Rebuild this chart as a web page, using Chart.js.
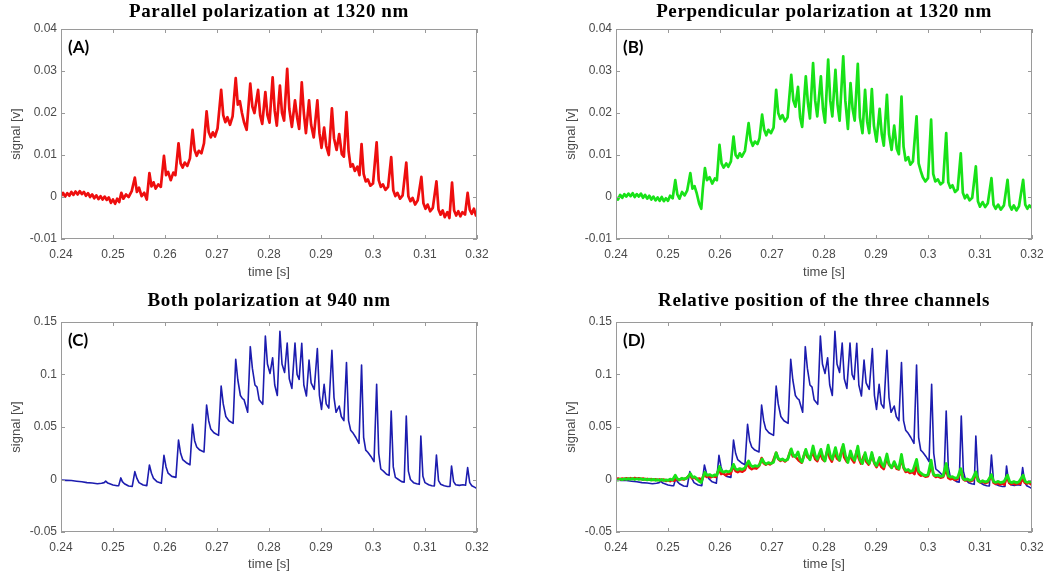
<!DOCTYPE html>
<html>
<head>
<meta charset="utf-8">
<script src="https://cdn.jsdelivr.net/npm/chart.js@4/dist/chart.umd.min.js"></script>
<style>
  html, body { margin: 0; padding: 0; background: #fff; }
  body { width: 1059px; height: 579px; position: relative; overflow: hidden; }
  canvas { position: absolute; }
</style>
</head>
<body>
<canvas id="chartA" width="529" height="289" style="left:0;top:0"></canvas>
<canvas id="chartB" width="504" height="289" style="left:555px;top:0"></canvas>
<canvas id="chartC" width="529" height="290" style="left:0;top:289px"></canvas>
<canvas id="chartD" width="504" height="290" style="left:555px;top:289px"></canvas>
<script>
// axis ticks
var xTicks = [0.24, 0.25, 0.26, 0.27, 0.28, 0.29, 0.30, 0.31, 0.32];
var xTickLabels = ['0.24', '0.25', '0.26', '0.27', '0.28', '0.29', '0.3', '0.31', '0.32'];
var yTicksSmall = [-0.01, 0, 0.01, 0.02, 0.03, 0.04];
var yLabelsSmall = ['-0.01', '0', '0.01', '0.02', '0.03', '0.04'];
var yTicksLarge = [-0.05, 0, 0.05, 0.1, 0.15];
var yLabelsLarge = ['-0.05', '0', '0.05', '0.1', '0.15'];

// parallel polarization, 1320 nm (red)
var tA = [.2400,.2404,.2408,.2412,.2416,.2420,.2424,.2428,.2432,.2436,.2440,.2444,.2448,.2452,.2456,.2460,.2464,.2468,.2472,.2476,
  .2480,.2484,.2488,.2492,.2496,.2500,.2504,.2508,.2512,.2516,.2520,.2525,.2530,.2536,.2542,.2546,.2550,.2555,.2560,.2565,
  .2570,.2574,.2578,.2582,.2587,.2592,.2598,.2602,.2606,.2611,.2616,.2620,.2626,.2630,.2634,.2638,.2643,.2648,.2653,.2657,
  .2661,.2665,.2670,.2675,.2680,.2684,.2688,.2692,.2696,.2701,.2708,.2712,.2716,.2720,.2725,.2730,.2736,.2740,.2744,.2748,
  .2752,.2757,.2764,.2768,.2772,.2779,.2783,.2787,.2793,.2797,.2801,.2807,.2811,.2815,.2821,.2825,.2829,.2835,.2839,.2844,
  .2850,.2854,.2858,.2863,.2867,.2871,.2877,.2881,.2886,.2893,.2897,.2901,.2906,.2910,.2915,.2921,.2925,.2930,.2935,.2940,
  .2944,.2949,.2953,.2957,.2961,.2965,.2970,.2974,.2978,.2982,.2986,.2990,.2995,.3000,.3007,.3011,.3015,.3019,.3024,.3029,
  .3035,.3039,.3043,.3047,.3052,.3057,.3064,.3068,.3072,.3076,.3081,.3086,.3093,.3097,.3101,.3105,.3110,.3115,.3122,.3126,
  .3130,.3134,.3138,.3143,.3147,.3152,.3156,.3160,.3164,.3168,.3172,.3177,.3182,.3186,.3190,.3194,.3198,.3200];
var vA = [.0002,.0010,.0001,.0009,.0003,.0012,.0005,.0013,.0006,.0014,.0007,.0012,.0003,.0009,.0000,.0006,-.0003,.0004,-.0005,.0002,
  -.0006,.0001,-.0007,-.0001,-.0014,-.0006,-.0016,-.0004,-.0012,.0010,-.0004,.0006,.0000,.0014,.0046,.0012,.0022,.0002,.0010,-.0006,
  .0057,.0025,.0035,.0020,.0030,.0024,.0098,.0052,.0060,.0040,.0058,.0052,.0128,.0080,.0070,.0082,.0074,.0092,.0160,.0112,
  .0098,.0110,.0104,.0128,.0204,.0155,.0142,.0154,.0144,.0163,.0255,.0195,.0178,.0190,.0172,.0192,.0283,.0220,.0228,.0200,
  .0178,.0160,.0270,.0215,.0200,.0255,.0195,.0174,.0250,.0195,.0177,.0285,.0205,.0170,.0265,.0200,.0182,.0305,.0210,.0167,
  .0230,.0190,.0162,.0273,.0200,.0152,.0230,.0172,.0142,.0230,.0152,.0117,.0165,.0122,.0100,.0211,.0140,.0112,.0150,.0102,
  .0096,.0202,.0110,.0072,.0078,.0062,.0072,.0052,.0126,.0055,.0037,.0042,.0027,.0032,.0130,.0040,.0024,.0030,.0017,.0024,
  .0095,.0016,.0002,.0010,-.0004,.0004,.0082,.0002,-.0010,-.0002,-.0018,-.0008,.0048,-.0015,-.0028,-.0018,-.0034,-.0026,.0037,-.0030,
  -.0042,-.0032,-.0048,-.0036,-.0050,.0034,-.0032,-.0044,-.0034,-.0046,-.0036,-.0042,.0010,-.0030,-.0040,-.0028,-.0044,-.0036];

// perpendicular polarization, 1320 nm (green)
var tB = [.2400,.2404,.2408,.2412,.2416,.2420,.2424,.2428,.2432,.2436,.2440,.2444,.2448,.2452,.2456,.2460,.2464,.2468,.2472,.2476,
  .2480,.2484,.2488,.2492,.2496,.2500,.2504,.2509,.2514,.2518,.2522,.2527,.2532,.2537,.2543,.2547,.2551,.2555,.2560,.2564,
  .2567,.2571,.2575,.2580,.2585,.2590,.2594,.2599,.2603,.2607,.2612,.2616,.2621,.2626,.2630,.2634,.2638,.2642,.2648,.2655,
  .2659,.2663,.2667,.2672,.2676,.2681,.2685,.2689,.2693,.2698,.2703,.2708,.2712,.2716,.2720,.2725,.2730,.2737,.2741,.2745,
  .2750,.2754,.2758,.2765,.2769,.2773,.2779,.2783,.2787,.2794,.2798,.2802,.2808,.2812,.2816,.2822,.2826,.2830,.2837,.2841,
  .2846,.2851,.2855,.2859,.2865,.2869,.2874,.2879,.2883,.2887,.2892,.2896,.2901,.2907,.2911,.2915,.2921,.2925,.2930,.2935,
  .2940,.2944,.2949,.2953,.2957,.2962,.2966,.2971,.2978,.2982,.2986,.2990,.2995,.3000,.3006,.3010,.3014,.3019,.3024,.3029,
  .3035,.3039,.3043,.3047,.3052,.3057,.3063,.3067,.3071,.3075,.3080,.3085,.3092,.3096,.3100,.3105,.3110,.3115,.3122,.3126,
  .3130,.3135,.3140,.3146,.3153,.3157,.3161,.3165,.3170,.3175,.3183,.3187,.3191,.3195,.3200];
var vB = [.0000,-.0006,.0005,-.0002,.0007,.0001,.0008,.0002,.0009,.0000,.0007,.0001,.0008,-.0002,.0005,-.0004,.0003,-.0006,.0001,-.0008,
  -.0001,-.0009,.0000,-.0010,-.0003,-.0009,.0003,-.0003,.0040,.0006,-.0004,.0012,.0004,.0016,.0057,.0020,.0026,.0010,-.0016,-.0028,
  .0020,.0069,.0040,.0047,.0032,.0044,.0040,.0124,.0080,.0070,.0080,.0072,.0085,.0144,.0100,.0093,.0104,.0096,.0110,.0176,
  .0135,.0122,.0132,.0126,.0140,.0196,.0160,.0147,.0160,.0152,.0165,.0255,.0200,.0186,.0195,.0180,.0190,.0291,.0230,.0215,
  .0262,.0190,.0167,.0287,.0225,.0187,.0319,.0230,.0192,.0287,.0210,.0177,.0327,.0230,.0192,.0303,.0220,.0182,.0335,.0230,
  .0162,.0271,.0210,.0182,.0317,.0190,.0152,.0255,.0180,.0152,.0257,.0170,.0132,.0210,.0150,.0122,.0243,.0150,.0112,.0170,
  .0115,.0102,.0239,.0120,.0087,.0095,.0077,.0085,.0192,.0080,.0062,.0047,.0037,.0045,.0184,.0055,.0037,.0042,.0030,.0035,
  .0152,.0035,.0022,.0028,.0012,.0018,.0104,.0010,-.0003,.0005,-.0008,-.0002,.0073,-.0010,-.0023,-.0012,-.0024,-.0015,.0045,-.0018,
  -.0028,-.0018,-.0030,-.0020,.0041,-.0020,-.0030,-.0020,-.0032,-.0022,.0041,-.0018,-.0028,-.0020,-.0026];

// both polarizations, 940 nm (blue)
var tC = [.2400,.2410,.2420,.2430,.2440,.2450,.2460,.2470,.2478,.2483,.2486,.2490,.2500,.2508,.2511,.2515,.2518,.2522,.2530,.2537,
  .2542,.2546,.2550,.2558,.2565,.2570,.2574,.2578,.2585,.2593,.2598,.2602,.2606,.2613,.2621,.2626,.2630,.2634,.2641,.2648,
  .2653,.2657,.2661,.2667,.2675,.2680,.2684,.2688,.2694,.2703,.2708,.2712,.2717,.2723,.2731,.2736,.2740,.2745,.2749,.2752,
  .2759,.2764,.2768,.2773,.2777,.2781,.2788,.2793,.2797,.2802,.2807,.2811,.2816,.2821,.2825,.2830,.2835,.2839,.2844,.2850,
  .2854,.2858,.2863,.2867,.2872,.2877,.2881,.2887,.2893,.2897,.2901,.2906,.2910,.2915,.2921,.2925,.2929,.2935,.2939,.2944,
  .2949,.2953,.2957,.2962,.2967,.2973,.2978,.2982,.2986,.2990,.2996,.3002,.3007,.3011,.3015,.3020,.3026,.3031,.3035,.3039,
  .3043,.3049,.3055,.3060,.3064,.3068,.3072,.3078,.3084,.3089,.3092,.3096,.3100,.3107,.3113,.3118,.3122,.3126,.3130,.3137,
  .3143,.3148,.3151,.3155,.3159,.3166,.3173,.3178,.3182,.3186,.3190,.3196,.3200];
var vC = [-.0005,-.0008,-.0010,-.0016,-.0022,-.0030,-.0034,-.0040,-.0036,-.0030,-.0016,-.0034,-.0052,-.0060,-.0058,.0015,-.0020,-.0040,-.0062,-.0066,
  .0075,.0010,-.0030,-.0052,-.0058,.0138,.0060,.0010,-.0022,-.0035,.0230,.0120,.0060,.0030,.0020,.0376,.0250,.0190,.0160,.0140,
  .0525,.0370,.0310,.0280,.0262,.0709,.0560,.0480,.0445,.0420,.0890,.0720,.0600,.0560,.0535,.1145,.0950,.0800,.0770,.0760,
  .0640,.1265,.1060,.0900,.0880,.0760,.0716,.1367,.1100,.1010,.1160,.0900,.0800,.1411,.1100,.1020,.1300,.0960,.0868,.1300,
  .1000,.0954,.1297,.0900,.0795,.1138,.0920,.0859,.1246,.0800,.0668,.0906,.0720,.0680,.1230,.0780,.0640,.0700,.0600,.0560,
  .1113,.0560,.0470,.0440,.0400,.0344,.1090,.0400,.0280,.0260,.0220,.0170,.0906,.0250,.0100,.0080,.0050,.0040,.0652,.0120,
  .0020,.0000,-.0020,-.0025,.0605,.0080,.0000,-.0030,-.0040,-.0046,.0414,.0030,-.0030,-.0050,-.0060,-.0062,.0233,-.0010,-.0045,-.0060,
  -.0066,-.0066,.0129,-.0020,-.0050,-.0056,-.0050,-.0055,.0113,-.0030,-.0060,-.0075,-.0087];

var RED = 'rgb(238, 14, 14)';
var GREEN = 'rgb(24, 226, 24)';
var BLUE = 'rgb(28, 28, 175)';

function toPoints(t, v) {
  return t.map(function (x, i) { return { x: x, y: v[i] }; });
}

// matlab style box, inner ticks, title and panel tag
var matlabFrame = {
  id: 'matlabFrame',
  afterDraw: function (chart, args, opts) {
    var ctx = chart.ctx;
    var a = chart.chartArea;
    var sx = chart.scales.x, sy = chart.scales.y;
    ctx.save();
    ctx.strokeStyle = '#9a9a9a';
    ctx.lineWidth = 1;
    ctx.strokeRect(a.left + 0.5, a.top + 0.5, a.width - 1, a.height - 1);
    ctx.beginPath();
    sx.ticks.forEach(function (tk) {
      var px = Math.round(sx.getPixelForValue(tk.value)) + 0.5;
      ctx.moveTo(px, a.bottom); ctx.lineTo(px, a.bottom - 4);
      ctx.moveTo(px, a.top); ctx.lineTo(px, a.top + 4);
    });
    sy.ticks.forEach(function (tk) {
      var py = Math.round(sy.getPixelForValue(tk.value)) + 0.5;
      ctx.moveTo(a.left, py); ctx.lineTo(a.left + 4, py);
      ctx.moveTo(a.right, py); ctx.lineTo(a.right - 4, py);
    });
    ctx.stroke();
    ctx.fillStyle = '#000';
    ctx.textAlign = 'center';
    ctx.textBaseline = 'alphabetic';
    ctx.font = 'bold 19px "Liberation Serif"';
    ctx.letterSpacing = '0.6px';
    ctx.fillText(opts.title, (a.left + a.right) / 2, a.top - opts.titleGap);
    ctx.letterSpacing = '0px';
    ctx.textAlign = 'left';
    ctx.font = 'bold 17px Lato';
    ctx.fillText(opts.tag, a.left + 7, a.top + 24);
    ctx.restore();
  }
};

function makePanel(id, datasets, yTicks, yLabels, yMin, yMax, title, tag, top, titleGap, xTitlePad, xHeight) {
  return new Chart(document.getElementById(id), {
    type: 'line',
    data: { datasets: datasets },
    plugins: [matlabFrame],
    options: {
      responsive: false,
      animation: false,
      parsing: false,
      normalized: true,
      layout: { padding: { top: top, left: 0, right: id === 'chartA' || id === 'chartC' ? 52 : 27, bottom: 0 } },
      plugins: {
        legend: { display: false },
        tooltip: { enabled: false },
        matlabFrame: { title: title, tag: tag, titleGap: titleGap }
      },
      elements: { point: { radius: 0 }, line: { tension: 0, borderJoinStyle: 'round' } },
      scales: {
        x: {
          type: 'linear', min: 0.24, max: 0.32,
          afterBuildTicks: function (s) { s.ticks = xTicks.map(function (v) { return { value: v }; }); },
          afterFit: function (s) { s.height = xHeight; },
          grid: { display: false, drawTicks: false },
          border: { display: false },
          ticks: {
            padding: 8, color: '#4a4a4a', maxRotation: 0, autoSkip: false,
            font: { family: 'Liberation Sans', size: 12 },
            callback: function (v, i) { return xTickLabels[i]; }
          },
          title: { display: true, text: 'time [s]', color: '#4a4a4a', padding: { top: 0, bottom: xTitlePad },
            font: { family: 'Liberation Sans', size: 13 } }
        },
        y: {
          type: 'linear', min: yMin, max: yMax,
          afterBuildTicks: function (s) { s.ticks = yTicks.map(function (v) { return { value: v }; }); },
          afterFit: function (s) { s.width = 61; },
          grid: { display: false, drawTicks: false },
          border: { display: false },
          ticks: {
            padding: 4, color: '#4a4a4a', autoSkip: false,
            font: { family: 'Liberation Sans', size: 12 },
            callback: function (v, i) { return yLabels[i]; }
          },
          title: { display: true, text: 'signal [v]', color: '#4a4a4a', padding: { top: 9, bottom: 0 },
            font: { family: 'Liberation Sans', size: 13 } }
        }
      }
    }
  });
}

function line(t, v, color, width) {
  return { data: toPoints(t, v), borderColor: color, borderWidth: width, fill: false };
}

makePanel('chartA', [line(tA, vA, RED, 2.7)], yTicksSmall, yLabelsSmall, -0.01, 0.04,
  'Parallel polarization at 1320 nm', '(A)', 29, 12, 9, 50);
makePanel('chartB', [line(tB, vB, GREEN, 2.7)], yTicksSmall, yLabelsSmall, -0.01, 0.04,
  'Perpendicular polarization at 1320 nm', '(B)', 29, 12, 9, 50);
makePanel('chartC', [line(tC, vC, BLUE, 1.6)], yTicksLarge, yLabelsLarge, -0.05, 0.15,
  'Both polarization at 940 nm', '(C)', 33, 16, 7, 47);
makePanel('chartD', [line(tB, vB, GREEN, 2.8), line(tA, vA, RED, 2.6), line(tC, vC, BLUE, 1.6)],
  yTicksLarge, yLabelsLarge, -0.05, 0.15,
  'Relative position of the three channels', '(D)', 33, 16, 7, 47);
</script>
</body>
</html>
